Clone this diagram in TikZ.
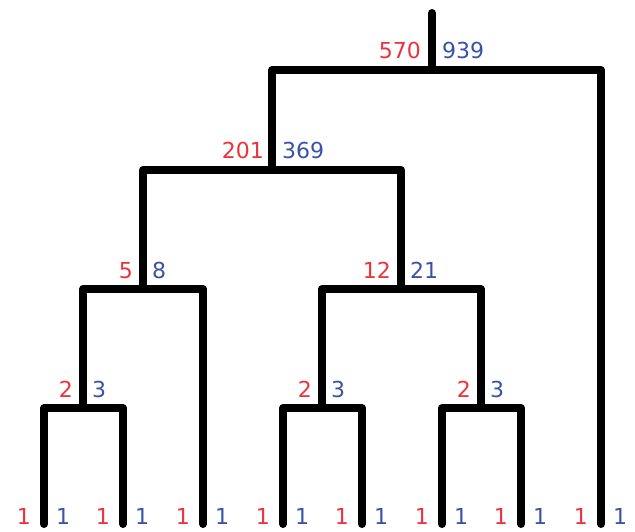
\documentclass[tikz,border=0pt]{standalone}
\usepackage{fontspec}
\setmainfont{DejaVu Sans}
\definecolor{lred}{RGB}{238,50,60}
\definecolor{lblue}{RGB}{58,82,165}
\begin{document}
\begin{tikzpicture}[x=1pt,y=-1pt,
  tree/.style={line width=8pt,line cap=round,line join=round,black},
  rl/.style={anchor=base east,text=lred,inner sep=0pt,font=\fontsize{22}{25}\selectfont},
  bl/.style={anchor=base west,text=lblue,inner sep=0pt,font=\fontsize{22}{25}\selectfont}]
\useasboundingbox (0,0) rectangle (635,532);
% leaves
\foreach \i/\x in {1/44,2/123,3/203,4/283,5/362,6/442,7/521,8/601}{
  \coordinate (L\i) at (\x,524);
  \node[rl] (r\i) at (\x-13,524) {1};
  \node[bl] (b\i) at (\x+12,524) {1};
}
% internal nodes
\coordinate (A) at (83,408);
\coordinate (B) at (322,408);
\coordinate (C) at (481,408);
\coordinate (D) at (143,289);
\coordinate (E) at (401,289);
\coordinate (F) at (272,170);
\coordinate (G) at (432,70);
\coordinate (T) at (432,13);
\draw[tree] (L1) |- (A) -| (L2);
\draw[tree] (L4) |- (B) -| (L5);
\draw[tree] (L6) |- (C) -| (L7);
\draw[tree] (A) |- (D) -| (L3);
\draw[tree] (B) |- (E) -| (C);
\draw[tree] (D) |- (F) -| (E);
\draw[tree] (F) |- (G) -| (L8);
\draw[tree] (G) -- (T);
% labels
\node[rl] (ra) at (73,397) {2}; \node[bl] (ba) at (92,397) {3};
\node[rl] (rb) at (312,397) {2}; \node[bl] (bb) at (331,397) {3};
\node[rl] (rc) at (471,397) {2}; \node[bl] (bc) at (490,397) {3};
\node[rl] (rd) at (133,278) {5}; \node[bl] (bd) at (152,278) {8};
\node[rl] (re) at (391,278) {12}; \node[bl] (be) at (410,278) {21};
\node[rl] (rf) at (264,159) {201}; \node[bl] (bf) at (282,159) {369};
\node[rl] (rg) at (421,59) {570}; \node[bl] (bg) at (442,59) {939};
\end{tikzpicture}
\end{document}
